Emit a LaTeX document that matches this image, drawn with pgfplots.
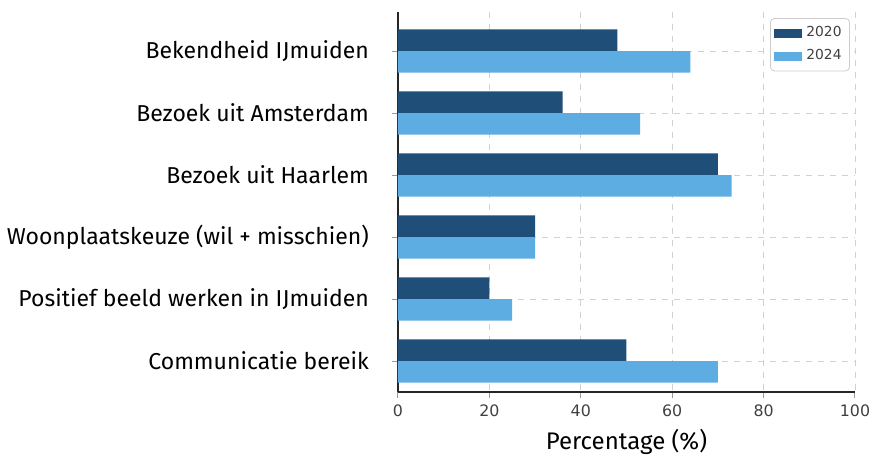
\documentclass[border=0pt]{standalone}
\usepackage{pgfplots}
\pgfplotsset{compat=1.18}
\usepackage{fontspec}
\setmainfont{Fira Sans}
\newfontfamily\dejavu{DejaVu Sans}
\definecolor{dark}{HTML}{1F4E79}
\definecolor{light}{HTML}{5DADE2}
\begin{document}
\begin{tikzpicture}
\begin{axis}[
  scale only axis,
  width=228.5pt, height=190pt,
  xbar, bar width=0.35,
  xmin=0, xmax=100,
  ymin=-0.63, ymax=5.5,
  y dir=reverse,
  xtick={0,20,40,60,80,100},
  ytick={0,1,2,3,4,5},
  yticklabels={Bekendheid IJmuiden,Bezoek uit Amsterdam,Bezoek uit Haarlem,Woonplaatskeuze (wil + misschien),Positief beeld werken in IJmuiden,Communicatie bereik},
  axis x line*=bottom, axis y line*=left,
  axis line style={-, black!85, line width=0.8pt},
  tick align=outside,
  major tick length=3pt,
  tick style={black!40, line width=0.5pt},
  grid=major,
  grid style={dashed, black!18, line width=0.4pt},
  /pgf/number format/assume math mode=true,
  xticklabel style={font=\dejavu\fontsize{7.9}{9}\selectfont, text=black!75},
  yticklabel style={font=\fontsize{11.5}{14}\selectfont, text=black, xshift=-8pt},
  xlabel={Percentage (\%)},
  xlabel style={font=\fontsize{12}{14}\selectfont, yshift=1pt},
  legend style={at={(0.989,0.984)}, anchor=north east, draw=black!20, rounded corners=2pt,
    font=\dejavu\fontsize{6.9}{8}\selectfont, text=black!75, row sep=1pt, inner sep=2pt},
  legend cell align=left,
  legend image code/.code={\fill[#1, sharp corners] (0pt,-2.25pt) rectangle (14pt,2.25pt);},
]
\addplot[fill=dark, draw=none, bar shift=-0.175] coordinates {(48,0) (36,1) (70,2) (30,3) (20,4) (50,5)};
\addplot[fill=light, draw=none, bar shift=0.175] coordinates {(64,0) (53,1) (73,2) (30,3) (25,4) (70,5)};
\legend{2020,2024}
\end{axis}
\pgfresetboundingbox
\path[use as bounding box] ([shift={(-199pt,-33.5pt)}]current axis.south west) rectangle ([shift={(9.5pt,6pt)}]current axis.north east);
\end{tikzpicture}
\end{document}
